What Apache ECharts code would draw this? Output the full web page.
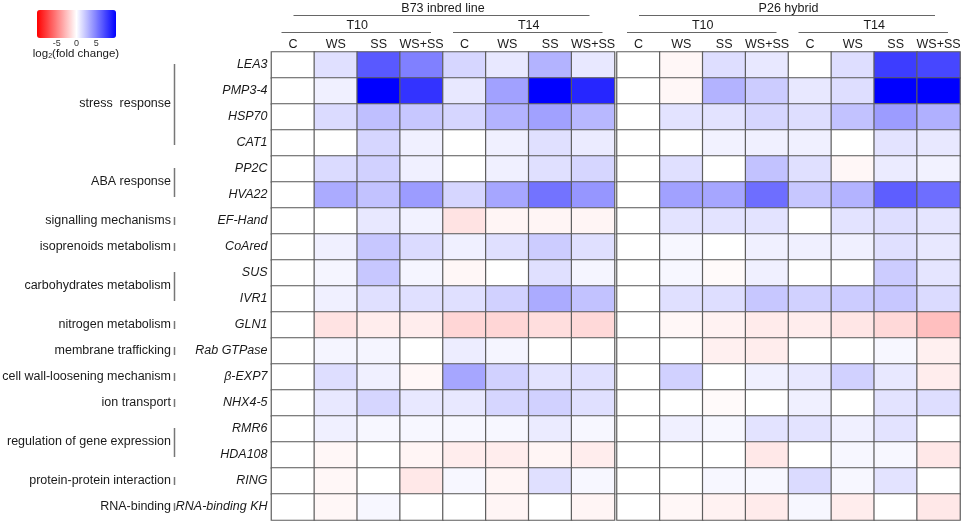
<!DOCTYPE html>
<html><head><meta charset="utf-8">
<script src="https://cdn.jsdelivr.net/npm/echarts@6/dist/echarts.min.js"></script>
<style>html,body{margin:0;padding:0;background:#fff}#c{width:964px;height:527px}</style>
</head><body><div id="c"></div>
<script>
const genes = ['LEA3','PMP3-4','HSP70','CAT1','PP2C','HVA22','EF-Hand','CoAred','SUS','IVR1','GLN1','Rab GTPase','β-EXP7','NHX4-5','RMR6','HDA108','RING','RNA-binding KH'];
const conditions = ['C','WS','SS','WS+SS','C','WS','SS','WS+SS'];
const timePoints = ['T10','T14'];
const lines = ['B73 inbred line','P26 hybrid'];
const legendTicks = [-5,0,5];

const b73 = [
  [0, 1.2, 6.5, 5.0, 1.6, 0.9, 3.0, 0.9],
  [0, 0.6, 10, 8.0, 0.9, 3.7, 10, 8.5],
  [0, 1.4, 2.5, 2.2, 1.6, 3.0, 3.7, 2.8],
  [0, 0, 1.6, 0.6, 0, 0.6, 1.2, 0.8],
  [0, 1.4, 1.8, 0.6, 0, 0.6, 1.2, 1.6],
  [0, 3.3, 2.4, 3.9, 1.6, 3.5, 5.5, 4.1],
  [0, 0, 0.9, 0.5, -1.1, -0.4, -0.4, -0.4],
  [0, 0.6, 2.2, 1.4, 0.6, 1.2, 2.0, 1.2],
  [0, 0.4, 2.2, 0.4, -0.3, 0, 1.2, 0.4],
  [0, 0.6, 1.2, 1.2, 1.2, 1.8, 3.3, 2.4],
  [0, -1.1, -0.7, -0.7, -1.6, -1.6, -1.3, -1.5],
  [0, 0.4, 0.4, 0, 0.7, 0.4, 0, 0],
  [0, 1.3, 0.6, -0.3, 3.5, 1.8, 1.1, 1.2],
  [0, 0.9, 1.6, 0.9, 0.9, 1.6, 1.8, 1.2],
  [0, 0.6, 0.3, 0.3, 0.3, 0.3, 0.8, 0.3],
  [0, -0.3, 0, -0.4, -0.7, -0.7, -0.4, -0.7],
  [0, -0.3, 0, -0.9, 0.3, -0.4, 1.2, 0.3],
  [0, -0.3, 0.3, 0, 0, -0.4, 0, -0.4]
];
const p26 = [
  [0, -0.3, 1.3, 0.9, 0, 1.3, 7.6, 7.2],
  [0, -0.3, 3.0, 2.0, 0.9, 1.3, 10, 10],
  [0, 1.1, 1.1, 1.6, 1.3, 2.4, 3.9, 3.1],
  [0, 0, 0.5, 0.6, 0.6, 0, 1.1, 0.9],
  [0, 1.2, 0, 2.4, 1.2, -0.3, 0.8, 0.5],
  [0, 3.7, 3.5, 5.7, 2.2, 3.0, 6.3, 5.7],
  [0, 1.1, 1.1, 1.1, 0, 1.1, 1.3, 1.0],
  [0, 0.3, 0, 0.6, 0.6, 0.6, 1.2, 0.9],
  [0, 0.3, -0.2, 0.6, 0, 0, 2.0, 1.0],
  [0, 1.2, 1.3, 2.2, 1.8, 2.0, 2.2, 1.4],
  [0, -0.3, -0.5, -0.8, -0.7, -1.0, -1.5, -2.5],
  [0, 0, -0.6, -0.7, 0, 0, 0.3, -0.6],
  [0, 1.8, 0, 0.6, 0.9, 1.8, 0.9, -0.7],
  [0, 0, -0.2, 0, 0.6, 0, 1.1, 1.3],
  [0, 0.6, 0.3, 1.1, 1.1, 0.6, 1.1, 0],
  [0, 0, 0, -0.9, 0, 0.3, 0.3, -0.9],
  [0, 0, 0.3, 0.3, 1.4, 0.3, 1.1, 0],
  [0, -0.3, -0.5, -0.8, 0.3, -0.7, 0, -0.9]
];
const functionGroups = [
  {name:'stress  response', start:0, end:3},
  {name:'ABA response', start:4, end:5},
  {name:'signalling mechanisms', start:6, end:6},
  {name:'isoprenoids metabolism', start:7, end:7},
  {name:'carbohydrates metabolism', start:8, end:9},
  {name:'nitrogen metabolism', start:10, end:10},
  {name:'membrane trafficking', start:11, end:11},
  {name:'cell wall-loosening mechanism', start:12, end:12},
  {name:'ion transport', start:13, end:13},
  {name:'regulation of gene expression', start:14, end:15},
  {name:'protein-protein interaction', start:16, end:16},
  {name:'RNA-binding', start:17, end:17}
];

function toCells(m){ const out=[]; m.forEach((row,r)=>row.forEach((v,c)=>out.push([c,r,v]))); return out; }

const FONT = '"Liberation Sans", Arial, sans-serif';
const TXT = '#1a1a1a';
const FS = 12.5;
const chart = echarts.init(document.getElementById('c'));

const xAx = gi => ({type:'category', gridIndex:gi, data:conditions, position:'top',
  axisLine:{show:false}, axisTick:{show:false}, splitLine:{show:false},
  axisLabel:{fontFamily:FONT, fontSize:12.5, color:TXT, margin:1, interval:0}});
const yAx = (gi, showLabel) => ({type:'category', gridIndex:gi, data:genes, inverse:true,
  axisLine:{show:false}, axisTick:{show:false}, splitLine:{show:false},
  axisLabel:{show:showLabel, fontFamily:FONT, fontSize:FS, fontStyle:'italic', color:TXT, margin:4, interval:0}});
const cellStyle = {borderColor:'#5e5e5e', borderWidth:1.2};

chart.setOption({
  animation:false,
  grid:[
    {left:271.5, top:52, width:343, height:468},
    {left:617, top:52, width:343, height:468},
    {left:37, top:10, width:79, height:28}
  ],
  xAxis:[xAx(0), xAx(1),
    {type:'value', gridIndex:2, min:-10, max:10, interval:5, position:'bottom',
     axisLine:{show:false}, axisTick:{show:false}, splitLine:{show:false},
     axisLabel:{fontFamily:FONT, fontSize:9, color:'#333', margin:1,
       formatter:v => legendTicks.includes(v) ? String(v) : ''}}],
  yAxis:[yAx(0,true), yAx(1,false), {type:'value', gridIndex:2, show:false}],
  visualMap:{type:'continuous', min:-10, max:10, seriesIndex:[0,1], orient:'horizontal',
    left:37, top:10, itemWidth:28, itemHeight:79, padding:0, calculable:false, hoverLink:false,
    inRange:{color:['#ff0000','#ffffff','#0000ff']}},
  series:[
    {type:'heatmap', xAxisIndex:0, yAxisIndex:0, data:toCells(b73), itemStyle:cellStyle, emphasis:{disabled:true}},
    {type:'heatmap', xAxisIndex:1, yAxisIndex:1, data:toCells(p26), itemStyle:cellStyle, emphasis:{disabled:true}}
  ]
});

const g = [];
const textStyle = (t,x,y,align,size) => ({type:'text', style:{text:t, x:x, y:y, align:align||'center', verticalAlign:'middle', fontFamily:FONT, fontSize:size||FS, fill:TXT}});
const seg = (x1,y1,x2,y2,w,c) => ({type:'line', shape:{x1,y1,x2,y2}, style:{stroke:c||'#666', lineWidth:w||1}});

[0,1].forEach(gi=>{
  const cx = i => chart.convertToPixel({xAxisIndex:gi}, i);
  const w = cx(1)-cx(0);
  const L = cx(0)-w/2, R = cx(conditions.length-1)+w/2;
  g.push(textStyle(lines[gi], (L+R)/2, 8.5));
  g.push(seg(L+22, 15.5, R-25, 15.5));
  timePoints.forEach((t,ti)=>{
    const s = ti*4, e = s+3;
    const l = cx(s)-w/2, r = cx(e)+w/2;
    g.push(textStyle(t, (l+r)/2, 25.5));
    g.push(seg(l+10, 32.5, r-12, 32.5));
  });
});
const cy = i => chart.convertToPixel({yAxisIndex:0}, i);
const h = cy(1)-cy(0);
functionGroups.forEach(fg=>{
  const top = cy(fg.start)-h/2, bot = cy(fg.end)+h/2, mid = (top+bot)/2;
  g.push(textStyle(fg.name, 171, mid, 'right'));
  if (fg.start === fg.end) g.push(seg(174.5, mid-4, 174.5, mid+4, 1.5, '#777'));
  else g.push(seg(174.5, top+12, 174.5, bot-11, 1.5, '#777'));
});
g.push({type:'text', style:{text:'log{s|2}(fold change)', x:76, y:53.5, align:'center', verticalAlign:'middle',
  fontFamily:FONT, fontSize:11.5, fill:TXT,
  rich:{s:{fontFamily:FONT, fontSize:7, fill:TXT, verticalAlign:'bottom', padding:[6,0,0,0]}}}});
chart.setOption({graphic:g});
</script></body></html>
